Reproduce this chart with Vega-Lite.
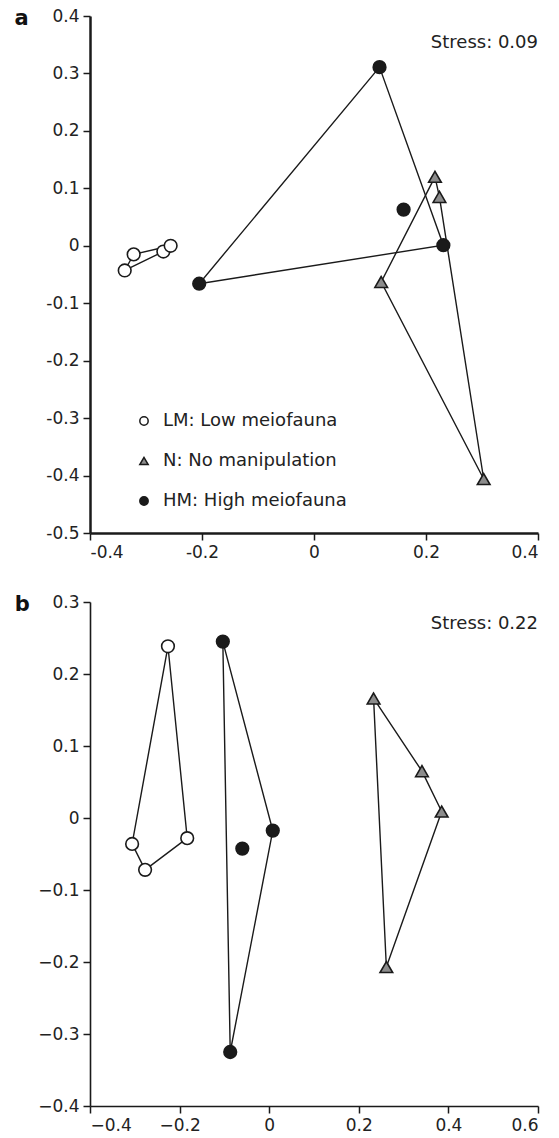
{
  "$schema": "https://vega.github.io/schema/vega-lite/v6.json",
  "background": "white",
  "padding": {"left": 14, "top": 7, "right": 5, "bottom": 5},
  "spacing": 33,
  "config": {
    "view": {"stroke": null},
    "font": "DejaVu Sans",
    "axis": {
      "grid": false,
      "title": null,
      "labelFont": "DejaVu Sans",
      "labelFontSize": 17,
      "labelColor": "#222222",
      "domainColor": "#1a1a1a",
      "domainWidth": 2,
      "tickColor": "#1a1a1a",
      "tickWidth": 1.5,
      "tickSize": 7,
      "labelPadding": 4
    },
    "legend": {
      "labelFont": "DejaVu Sans",
      "labelFontSize": 18,
      "labelColor": "#222222",
      "labelLimit": 400
    }
  },
  "datasets": {
    "a_pts": [
      {"group": "LM: Low meiofauna", "x": -0.338, "y": -0.043},
      {"group": "LM: Low meiofauna", "x": -0.322, "y": -0.015},
      {"group": "LM: Low meiofauna", "x": -0.269, "y": -0.010},
      {"group": "LM: Low meiofauna", "x": -0.256, "y": 0.000},
      {"group": "N: No manipulation", "x": 0.216, "y": 0.120},
      {"group": "N: No manipulation", "x": 0.224, "y": 0.085},
      {"group": "N: No manipulation", "x": 0.120, "y": -0.063},
      {"group": "N: No manipulation", "x": 0.303, "y": -0.406},
      {"group": "HM: High meiofauna", "x": 0.117, "y": 0.311},
      {"group": "HM: High meiofauna", "x": -0.205, "y": -0.066},
      {"group": "HM: High meiofauna", "x": 0.231, "y": 0.001},
      {"group": "HM: High meiofauna", "x": 0.160, "y": 0.063}
    ],
    "a_hull": [
      {"group": "LM", "k": 1, "x": -0.338, "y": -0.043},
      {"group": "LM", "k": 2, "x": -0.322, "y": -0.015},
      {"group": "LM", "k": 3, "x": -0.256, "y": 0.000},
      {"group": "LM", "k": 4, "x": -0.269, "y": -0.010},
      {"group": "LM", "k": 5, "x": -0.338, "y": -0.043},
      {"group": "N", "k": 1, "x": 0.216, "y": 0.120},
      {"group": "N", "k": 2, "x": 0.224, "y": 0.085},
      {"group": "N", "k": 3, "x": 0.303, "y": -0.406},
      {"group": "N", "k": 4, "x": 0.120, "y": -0.063},
      {"group": "N", "k": 5, "x": 0.216, "y": 0.120},
      {"group": "HM", "k": 1, "x": 0.117, "y": 0.311},
      {"group": "HM", "k": 2, "x": 0.231, "y": 0.001},
      {"group": "HM", "k": 3, "x": -0.205, "y": -0.066},
      {"group": "HM", "k": 4, "x": 0.117, "y": 0.311}
    ],
    "b_pts": [
      {"group": "LM: Low meiofauna", "x": -0.226, "y": 0.2385},
      {"group": "LM: Low meiofauna", "x": -0.306, "y": -0.036},
      {"group": "LM: Low meiofauna", "x": -0.277, "y": -0.072},
      {"group": "LM: Low meiofauna", "x": -0.183, "y": -0.028},
      {"group": "N: No manipulation", "x": 0.233, "y": 0.166},
      {"group": "N: No manipulation", "x": 0.341, "y": 0.065},
      {"group": "N: No manipulation", "x": 0.385, "y": 0.009},
      {"group": "N: No manipulation", "x": 0.2615, "y": -0.207},
      {"group": "HM: High meiofauna", "x": -0.1035, "y": 0.245},
      {"group": "HM: High meiofauna", "x": 0.008, "y": -0.0175},
      {"group": "HM: High meiofauna", "x": -0.060, "y": -0.0425},
      {"group": "HM: High meiofauna", "x": -0.087, "y": -0.325}
    ],
    "b_hull": [
      {"group": "LM", "k": 1, "x": -0.226, "y": 0.2385},
      {"group": "LM", "k": 2, "x": -0.183, "y": -0.028},
      {"group": "LM", "k": 3, "x": -0.277, "y": -0.072},
      {"group": "LM", "k": 4, "x": -0.306, "y": -0.036},
      {"group": "LM", "k": 5, "x": -0.226, "y": 0.2385},
      {"group": "N", "k": 1, "x": 0.233, "y": 0.166},
      {"group": "N", "k": 2, "x": 0.341, "y": 0.065},
      {"group": "N", "k": 3, "x": 0.385, "y": 0.009},
      {"group": "N", "k": 4, "x": 0.2615, "y": -0.207},
      {"group": "N", "k": 5, "x": 0.233, "y": 0.166},
      {"group": "HM", "k": 1, "x": -0.1035, "y": 0.245},
      {"group": "HM", "k": 2, "x": 0.008, "y": -0.0175},
      {"group": "HM", "k": 3, "x": -0.087, "y": -0.325},
      {"group": "HM", "k": 4, "x": -0.1035, "y": 0.245}
    ]
  },
  "resolve": {
    "scale": {"x": "independent", "y": "independent", "fill": "independent", "shape": "independent"},
    "legend": {"fill": "independent", "shape": "independent"}
  },
  "vconcat": [
    {
      "width": 448,
      "height": 517,
      "layer": [
        {
          "data": {"name": "a_hull"},
          "mark": {"type": "line", "color": "#1a1a1a", "strokeWidth": 1.4},
          "encoding": {
            "x": {"field": "x", "type": "quantitative", "scale": {"domain": [-0.4, 0.4], "nice": false, "zero": false},
              "axis": {"values": [-0.4, -0.2, 0, 0.2, 0.4], "labelExpr": "replace(format(datum.value, '.1~f'), '\u2212', '-')", "domainWidth": 2.5}},
            "y": {"field": "y", "type": "quantitative", "scale": {"domain": [-0.5, 0.4], "nice": false, "zero": false},
              "axis": {"values": [-0.5, -0.4, -0.3, -0.2, -0.1, 0, 0.1, 0.2, 0.3, 0.4], "labelExpr": "replace(format(datum.value, '.1~f'), '\u2212', '-')", "domainWidth": 2.5}},
            "detail": {"field": "group"},
            "order": {"field": "k", "type": "quantitative"}
          }
        },
        {
          "data": {"name": "a_pts"},
          "mark": {"type": "point", "filled": true, "size": 160, "stroke": "#1a1a1a", "strokeWidth": 1.6, "opacity": 1},
          "encoding": {
            "x": {"field": "x", "type": "quantitative"},
            "y": {"field": "y", "type": "quantitative"},
            "shape": {"field": "group", "type": "nominal",
              "scale": {"domain": ["LM: Low meiofauna", "N: No manipulation", "HM: High meiofauna"], "range": ["circle", "triangle-up", "circle"]},
              "legend": {"title": null, "orient": "none", "legendX": 45, "legendY": 396, "symbolSize": 70, "rowPadding": 22, "labelOffset": 10, "padding": 0,
                "encode": {"symbols": {"update": {"stroke": {"value": "#1a1a1a"}, "strokeWidth": {"value": 1.4}}}}}},
            "fill": {"field": "group", "type": "nominal",
              "scale": {"domain": ["LM: Low meiofauna", "N: No manipulation", "HM: High meiofauna"], "range": ["#ffffff", "#8c8c8c", "#1a1a1a"]},
              "legend": {"title": null, "orient": "none", "legendX": 45, "legendY": 396, "symbolSize": 70, "rowPadding": 22, "labelOffset": 10, "padding": 0,
                "encode": {"symbols": {"update": {"stroke": {"value": "#1a1a1a"}, "strokeWidth": {"value": 1.4}}}}}}
          }
        },
        {
          "data": {"values": [{}]},
          "mark": {"type": "text", "align": "right", "baseline": "middle", "fontSize": 18, "color": "#222222"},
          "encoding": {"x": {"datum": 0.4}, "y": {"datum": 0.353}, "text": {"value": "Stress: 0.09"}}
        },
        {
          "data": {"values": [{}]},
          "mark": {"type": "text", "align": "left", "baseline": "middle", "fontSize": 21, "fontWeight": "bold", "color": "#111111", "dy": 3},
          "encoding": {"x": {"datum": -0.535}, "y": {"datum": 0.4}, "text": {"value": "a"}}
        }
      ]
    },
    {
      "width": 448,
      "height": 504,
      "layer": [
        {
          "data": {"name": "b_hull"},
          "mark": {"type": "line", "color": "#1a1a1a", "strokeWidth": 1.4},
          "encoding": {
            "x": {"field": "x", "type": "quantitative", "scale": {"domain": [-0.4, 0.6], "nice": false, "zero": false},
              "axis": {"values": [-0.4, -0.2, 0, 0.2, 0.4, 0.6], "format": ".1~f", "domainWidth": 1.6}},
            "y": {"field": "y", "type": "quantitative", "scale": {"domain": [-0.4, 0.3], "nice": false, "zero": false},
              "axis": {"values": [-0.4, -0.3, -0.2, -0.1, 0, 0.1, 0.2, 0.3], "format": ".1~f", "domainWidth": 1.6}},
            "detail": {"field": "group"},
            "order": {"field": "k", "type": "quantitative"}
          }
        },
        {
          "data": {"name": "b_pts"},
          "mark": {"type": "point", "filled": true, "size": 160, "stroke": "#1a1a1a", "strokeWidth": 1.6, "opacity": 1},
          "encoding": {
            "x": {"field": "x", "type": "quantitative"},
            "y": {"field": "y", "type": "quantitative"},
            "shape": {"field": "group", "type": "nominal",
              "scale": {"domain": ["LM: Low meiofauna", "N: No manipulation", "HM: High meiofauna"], "range": ["circle", "triangle-up", "circle"]},
              "legend": null},
            "fill": {"field": "group", "type": "nominal",
              "scale": {"domain": ["LM: Low meiofauna", "N: No manipulation", "HM: High meiofauna"], "range": ["#ffffff", "#8c8c8c", "#1a1a1a"]},
              "legend": null}
          }
        },
        {
          "data": {"values": [{}]},
          "mark": {"type": "text", "align": "right", "baseline": "middle", "fontSize": 18, "color": "#222222"},
          "encoding": {"x": {"datum": 0.6}, "y": {"datum": 0.27}, "text": {"value": "Stress: 0.22"}}
        },
        {
          "data": {"values": [{}]},
          "mark": {"type": "text", "align": "left", "baseline": "middle", "fontSize": 21, "fontWeight": "bold", "color": "#111111", "dy": 3},
          "encoding": {"x": {"datum": -0.568}, "y": {"datum": 0.3}, "text": {"value": "b"}}
        }
      ]
    }
  ]
}
